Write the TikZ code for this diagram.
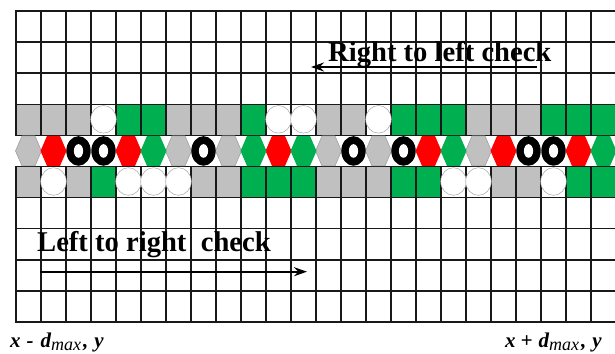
\documentclass[tikz,border=0pt]{standalone}
\usepackage{fontspec}
\setmainfont{Liberation Serif}
\usetikzlibrary{arrows.meta}
\definecolor{cgray}{RGB}{192,192,192}
\definecolor{cgreen}{RGB}{0,176,80}
\definecolor{cred}{RGB}{255,0,0}
\begin{document}
\begin{tikzpicture}[x=1pt,y=-1pt,
  gridline/.style={line width=1.5pt, black!90},
  hexgray/.style={fill=cgray, draw=gray!80, line width=0.5pt},
  hexred/.style={fill=cred},
  hexgreen/.style={fill=cgreen},
  wcirc/.style={fill=white, draw=gray!70, line width=0.5pt},
  title/.style={font=\fontsize{28.6}{28.6}\selectfont\bfseries, inner sep=0pt},
  lab/.style={font=\fontsize{21}{21}\selectfont\bfseries\itshape, inner sep=0pt},
  arr/.style={line width=2pt, -{Stealth[length=13pt,width=9pt]}}]
\useasboundingbox (0,0) rectangle (615,353);
\fill[white] (0,0) rectangle (615,353);
\def\rA{104.3}\def\rB{135.4}\def\rC{166.5}\def\rh{31.1}
\begin{scope}
\clip (0,0) rectangle (615,353);
% upper row boxes
\foreach \c in {0,1,2,6,7,8,12,13,18,19,20} \fill[cgray] ({16+25*\c},\rA) rectangle ++(25,\rh);
\foreach \c in {4,5,9,15,16,17,21,22,23} \fill[cgreen] ({16+25*\c},\rA) rectangle ++(25,\rh);
% lower row boxes
\foreach \c in {0,2,7,8,12,13,14,19,20} \fill[cgray] ({16+25*\c},\rC) rectangle ++(25,\rh);
\foreach \c in {3,9,10,11,15,16,22,23} \fill[cgreen] ({16+25*\c},\rC) rectangle ++(25,\rh);
% grid
\foreach \k in {0,...,24} \draw[gridline] ({16+25*\k},11) -- ({16+25*\k},322);
\foreach \j in {0,...,10} \draw[gridline] (15.25,{11+31.1*\j}) -- (617,{11+31.1*\j});
% hexagon row
\fill[white] (14,{\rB+0.8}) rectangle (617,{\rC-0.8});
\foreach \c in {0,6,8,12,14,18} \filldraw[hexgray] ({15.5+25*\c},{\rB+15.55}) -- ++(6.5,-15) -- ++(13,0) -- ++(6.5,15) -- ++(-6.5,15) -- ++(-13,0) -- cycle;
\foreach \c in {1,4,10,16,19,22} \fill[hexred] ({15.5+25*\c},{\rB+15.55}) -- ++(6.5,-15) -- ++(13,0) -- ++(6.5,15) -- ++(-6.5,15) -- ++(-13,0) -- cycle;
\foreach \c in {5,9,11,17,23} \fill[hexgreen] ({15.5+25*\c},{\rB+15.55}) -- ++(6.5,-15) -- ++(13,0) -- ++(6.5,15) -- ++(-6.5,15) -- ++(-13,0) -- cycle;
\foreach \c in {2,3,7,13,15,20,21} {
  \fill[black] ({28.5+25*\c},{\rB+15.55}) ellipse [x radius=12.2, y radius=14.8];
  \fill[white] ({28.5+25*\c},{\rB+15.55}) ellipse [x radius=4.6, y radius=6.8];
}
% white circles
\foreach \c in {3,10,11,14} \filldraw[wcirc] ({28.5+25*\c},{\rA+15}) ellipse [x radius=12.8, y radius=13.8];
\foreach \c in {1,4,5,6,17,18,21} \filldraw[wcirc] ({28.5+25*\c},{\rC+15}) ellipse [x radius=12.8, y radius=13.8];
\end{scope}
% texts
\node[title, anchor=base west] (rtl) at (328,62) {Right to left check};
\node[title, anchor=base west] (ltr) at (37,251) {Left to right\ \ check};
\coordinate (a1s) at (537,67);
\coordinate (a1e) at (311,67);
\draw[arr] (a1s) -- (a1e);
\coordinate (a2s) at (40,271.7);
\coordinate (a2e) at (307,271.7);
\draw[arr] (a2s) -- (a2e);
\node[lab, anchor=base west] (lmin) at (10,347) {x\hspace{6pt}-\hspace{7pt}d\raisebox{-3pt}{\fontsize{18}{18}\selectfont\mdseries max}\hspace{2pt},\hspace{6pt}y};
\node[lab, anchor=base west] (lmax) at (505,347) {x\hspace{5pt}+\hspace{6pt}d\raisebox{-3pt}{\fontsize{18}{18}\selectfont\mdseries max}\hspace{2pt},\hspace{6pt}y};
\end{tikzpicture}
\end{document}
